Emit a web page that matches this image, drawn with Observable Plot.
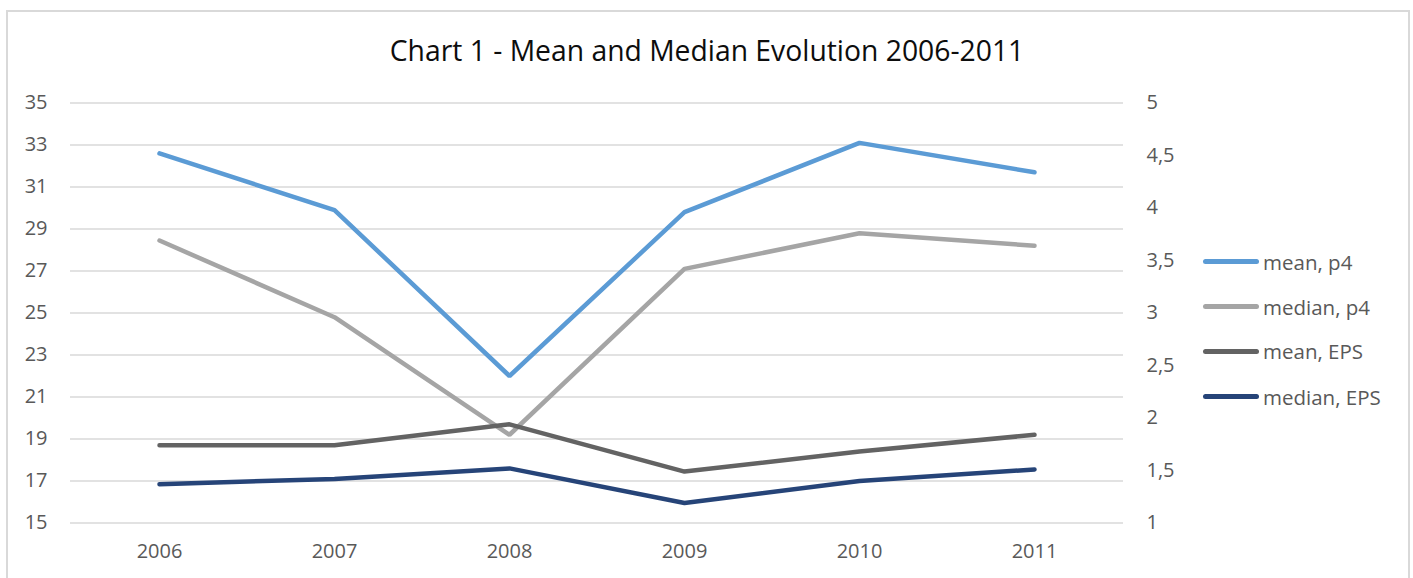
<!DOCTYPE html>
<html>
<head>
<meta charset="utf-8">
<script src="https://cdn.jsdelivr.net/npm/d3@7"></script>
<script src="https://cdn.jsdelivr.net/npm/@observablehq/plot@0.6"></script>
<style>
  html, body { margin: 0; padding: 0; background: #fff; overflow: hidden; }
  #wrap { position: relative; width: 1413px; height: 578px; overflow: hidden; }
  #frame { position: absolute; left: 6px; top: 10px; height: 600px; border: 2px solid #d9d9d9; box-sizing: border-box; width: 1404px; }
  #title { position: relative; height: 80px; width: 1413px; box-sizing: border-box; padding-left: 1px; padding-top: 31px; line-height: 38px; text-align: center; font-family: "Open Sans", sans-serif; font-size: 28.3px; color: #0d0d0d; }
  #chart { position: relative; }
  #legend { position: absolute; left: 1203px; top: 0; font-family: "Open Sans", sans-serif; font-size: 20.5px; color: #595959; }
  .item { position: absolute; left: 0; white-space: nowrap; display: flex; align-items: center; height: 30px; }
  .swatch { width: 56px; height: 5px; border-radius: 3px; margin-right: 4px; }
</style>
</head>
<body>
<div id="wrap">
  <div id="frame"></div>
  <div id="title">Chart 1 - Mean and Median Evolution 2006-2011</div>
  <div id="chart"></div>
  <div id="legend"></div>
</div>
<script>
const years = ["2006", "2007", "2008", "2009", "2010", "2011"];
const meanP4 = [32.6, 29.9, 22.0, 29.8, 33.1, 31.7];
const medianP4 = [28.45, 24.8, 19.2, 27.1, 28.8, 28.2];
const meanEPS = [1.74, 1.74, 1.94, 1.49, 1.68, 1.84];
const medianEPS = [1.37, 1.42, 1.52, 1.19, 1.40, 1.51];
const leftTicks = [15, 17, 19, 21, 23, 25, 27, 29, 31, 33, 35];
const rightTicks = [1, 1.5, 2, 2.5, 3, 3.5, 4, 4.5, 5];
const seriesNames = ["mean, p4", "median, p4", "mean, EPS", "median, EPS"];
const seriesColors = ["#5b9bd5", "#a5a5a5", "#636363", "#264478"];
const seriesAxis = ["left", "left", "right", "right"];
const seriesValues = [meanP4, medianP4, meanEPS, medianEPS];

// map right-axis values (1..5) onto left-axis scale (15..35)
const toLeft = v => 15 + (v - 1) * 5;
const fromLeft = t => (t - 15) / 5 + 1;

const series = seriesNames.map((name, i) => ({
  name, color: seriesColors[i],
  data: years.map((year, j) => ({
    year,
    value: seriesValues[i][j],
    y: seriesAxis[i] === "right" ? toLeft(seriesValues[i][j]) : seriesValues[i][j]
  }))
}));

const fmtComma = v => String(v).replace(".", ",");

const plot = Plot.plot({
  width: 1413,
  height: 498,
  marginTop: 22.5,
  marginBottom: 55.5,
  marginLeft: 70,
  marginRight: 290,
  style: { fontFamily: "'Open Sans', sans-serif", fontSize: "20px", color: "#595959", background: "transparent" },
  x: { type: "point", domain: years, padding: 0.5 },
  y: { domain: [15, 35] },
  marks: [
    Plot.ruleY(leftTicks, { stroke: "#d9d9d9", strokeWidth: 1.5 }),
    Plot.axisY({ ticks: leftTicks, tickSize: 0, tickPadding: 23, label: null, anchor: "left", fill: "#595959" }),
    Plot.axisY({ ticks: rightTicks.map(toLeft), tickSize: 0, tickPadding: 23, label: null, anchor: "right", tickFormat: t => fmtComma(fromLeft(t)), fill: "#595959" }),
    Plot.axisX({ tickSize: 0, tickPadding: 21, label: null, fill: "#595959" }),
    ...series.map(s => Plot.line(s.data, {
      x: "year", y: "y", stroke: s.color, strokeWidth: 4.5,
      strokeLinecap: "round", strokeLinejoin: "miter"
    }))
  ]
});
document.getElementById("chart").appendChild(plot);

const legend = document.getElementById("legend");
const legendY = [261.7, 306.7, 351.3, 396.7];
seriesNames.forEach((name, i) => {
  const item = document.createElement("div");
  item.className = "item";
  item.style.top = (legendY[i] - 15) + "px";
  const sw = document.createElement("div");
  sw.className = "swatch";
  sw.style.background = seriesColors[i];
  const tx = document.createElement("span");
  tx.textContent = name;
  item.appendChild(sw);
  item.appendChild(tx);
  legend.appendChild(item);
});
</script>
</body>
</html>
